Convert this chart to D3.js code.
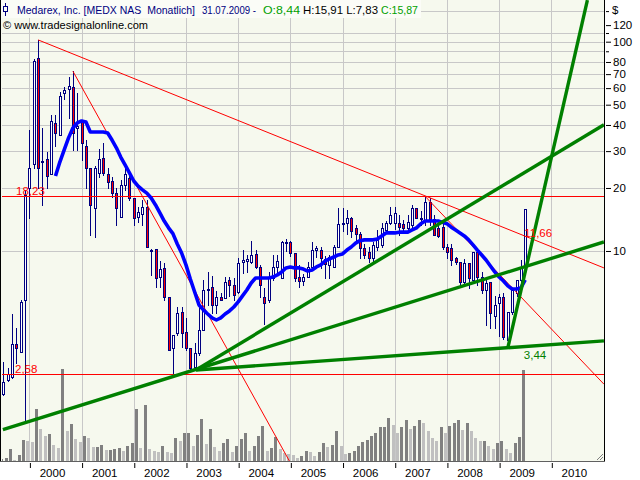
<!DOCTYPE html>
<html><head><meta charset="utf-8">
<script src="https://cdn.jsdelivr.net/npm/d3@7"></script>
<style>body{margin:0;background:#fff}svg{display:block}</style>
</head><body>
<svg id="c" width="640" height="480"></svg>
<script>
// ---------- DATA (monthly bars, first bar = Jul 1999; month index relative to Jan 2000) ----------
const firstBar = -6;
const opens = [
 2.08,2.42,2.50,3.60,3.30,5.80,20.0,26.0,84.0,26.5,27.5,23.4,
 40.8,35.8,56.8,59.2,61.0,38.5,41.3,31.6,24.8,16.0,23.6,27.8,
 23.4,21.6,18.9,14.6,20.6,22.2,18.0,14.6,15.1,16.2,10.0,10.2,
 7.5,8.3,6.0,3.43,4.06,5.1,4.1,3.43,2.79,3.25,4.18,6.5,
 6.7,5.5,6.0,5.95,7.27,6.85,6.37,8.85,8.96,8.85,9.68,8.39,
 6.0,5.83,7.43,8.4,7.45,11.0,11.0,9.8,7.5,7.2,7.5,8.4,
 10.1,10.1,9.2,8.6,8.4,10.45,13.5,13.6,14.3,12.9,12.1,10.3,
 9.9,9.3,10.4,10.7,12.6,13.6,13.6,13.6,13.5,12.9,13.3,16.0,
 14.2,14.1,17.2,14.2,12.9,13.0,10.45,10.3,9.25,8.85,7.1,8.77,
 7.27,9.9,7.51,6.51,7.1,4.9,5.63,6.0,3.76,5.11,6.3,7.27,
 8.44];
const highs = [
 2.94,2.75,5.0,4.3,5.8,19.6,38.0,83.0,102,38.7,29.7,44.5,
 44.5,57.6,60.6,67.6,72.3,56.8,41.3,33.9,24.8,25.4,30.8,32.7,
 24.8,22.5,20.0,21.8,25.6,23.8,18.0,16.2,17.5,17.5,10.2,10.2,
 8.95,8.8,6.0,3.96,5.4,5.4,4.77,3.45,3.64,5.4,7.27,7.9,
 7.6,6.45,6.3,7.5,7.5,7.45,9.25,10.1,9.57,11.2,10.1,8.58,
 6.66,7.94,9.57,9.6,11.2,11.4,11.1,9.8,8.56,7.8,8.9,11.0,
 10.6,10.5,9.5,9.6,10.7,16.0,16.0,15.7,14.6,13.3,12.3,10.8,
 10.4,11.0,12.6,13.6,13.9,16.3,16.3,14.8,14.0,14.8,16.6,16.0,
 15.6,18.23,18.0,14.8,13.4,13.8,10.8,10.8,9.4,8.85,9.2,8.8,
 9.9,9.9,7.9,7.4,7.1,6.1,6.2,6.3,5.11,6.51,7.27,9.06,
 15.91];
const lows = [
 2.06,2.40,2.47,2.90,3.30,1.50,14.3,24.8,20.0,16.6,20.0,23.4,
 31.9,35.8,53.0,43.0,30.3,30.3,27.2,20.0,11.9,11.7,22.5,23.0,
 20.0,18.2,13.3,14.6,19.5,17.5,13.3,13.8,13.3,10.4,7.7,6.7,
 6.7,5.8,3.36,2.58,3.96,3.48,3.36,2.70,2.74,3.19,4.18,5.5,
 5.04,5.04,5.83,5.95,6.1,5.85,6.3,7.86,7.94,8.77,8.3,6.0,
 4.47,5.71,7.27,7.9,7.45,10.0,9.5,7.2,6.73,6.9,7.5,8.4,
 9.4,8.3,7.4,7.4,8.4,10.45,12.5,12.0,11.6,11.0,9.25,9.3,
 8.9,9.0,10.1,10.45,12.4,13.4,12.8,11.9,12.5,12.6,13.0,14.3,
 13.3,13.3,13.3,11.9,11.6,10.2,9.25,8.58,8.7,6.9,6.9,6.66,
 7.1,6.9,6.3,4.45,4.3,4.3,3.92,3.8,3.44,5.0,6.1,7.1,
 7.83];
const closes = [
 2.37,2.58,3.60,3.44,5.70,18.5,24.8,81.0,24.8,27.0,22.8,41.7,
 36.5,54.9,58.5,61.3,36.5,39.6,32.7,25.0,16.6,24.8,27.5,23.6,
 21.3,18.9,16.0,20.6,23.4,18.0,14.3,15.4,16.2,10.4,10.1,7.4,
 8.2,6.0,3.36,3.96,5.04,4.06,3.43,2.76,3.25,4.18,6.5,6.6,
 5.5,6.0,5.83,7.1,6.9,6.15,8.77,9.06,9.16,9.57,8.39,6.88,
 5.63,7.43,8.39,9.0,11.0,11.05,9.8,7.4,7.2,7.5,8.4,10.1,
 10.3,9.3,8.7,9.4,10.45,13.5,13.6,14.3,12.5,12.1,10.3,9.6,
 9.3,10.7,11.3,12.9,13.6,14.8,15.2,13.0,12.9,13.8,16.0,14.3,
 14.3,17.2,14.2,11.9,11.8,10.45,9.9,9.06,8.85,7.1,8.77,7.43,
 9.9,7.51,6.51,7.03,5.04,5.52,6.0,3.9,5.11,6.51,7.27,8.3,
 15.87];
// relative monthly volume
const volumes = [
 2,3,12,1,6,21,20,19,52,32,25,27,
 16,13,92,30,37,22,19,25,23,14,14,16,
 11,11,12,13,10,15,18,52,13,56,12,10,
 9,15,9,8,23,20,28,28,15,26,42,17,
 32,14,10,18,22,9,15,22,28,10,15,25,
 35,10,13,24,12,8,7,6,3,5,10,9,
 5,9,18,14,16,30,15,7,8,10,15,19,
 21,25,28,34,34,43,36,28,34,41,32,35,
 41,38,30,23,20,34,28,35,38,41,31,38,
 30,23,20,20,15,12,18,20,12,8,18,24,
 91];
// blue average line, from Jul 2000 (month index 6)
const maStart = 6;
const maValues = [
 22.8,26.6,30.4,34.7,38.7,40.9,41.8,41.3,37.0,37.0,37.0,37.0,
 36.6,33.9,31.1,28.1,25.8,23.6,21.6,20.4,19.6,18.9,17.9,16.6,
 15.2,13.9,12.9,12.1,10.8,9.78,8.58,7.35,6.37,5.52,5.23,5.00,
 4.79,4.68,4.79,5.00,5.17,5.40,5.71,6.10,6.51,7.03,7.43,7.43,
 7.43,7.43,7.51,7.68,7.94,8.30,8.39,8.30,8.30,8.20,8.02,8.11,
 8.39,8.58,8.96,9.16,9.36,9.57,9.68,10.1,10.45,10.9,11.2,11.3,
 11.3,11.3,11.4,11.8,12.2,12.2,12.2,12.3,12.3,12.3,12.6,12.9,
 13.5,13.9,13.9,13.9,13.9,13.7,13.5,13.0,12.6,12.2,11.8,11.3,
 10.7,10.1,9.57,9.06,8.48,7.94,7.51,7.19,6.81,6.58,6.58,6.66,
 7.27];
const yearLabels = ["2000","2001","2002","2003","2004","2005","2006","2007","2008","2009","2010"];
const priceTicks = [10,20,30,40,50,60,70,80,100,120];
const minorPriceTicks = [90,110,140];
const gridPrices = [10,20,30,40,50,60,70,80,90,100,110,140];
const levelValues = [18.23, 2.58];
const levelLabels = ["18,23", "2,58"];
// trend lines: [monthIndex, price] anchor pairs
const redTrend = [
  [[2,102],[132.1,8.3]],
  [[10,72.3],[59.8,0.99]],
  [[91,18.23],[132.1,2.31]]
];
const greenTrend = [
  [[-6.1,1.40],[132.1,11.04]],
  [[38.3,2.70],[132.1,40.1]],
  [[38.3,2.70],[132.1,3.72]],
  [[110,3.44],[128.3,158]]
];
const trendValueLabel = {month:114, value:11.66, text:"11,66"};
const lowLabel = {month:110, value:3.44, text:"3,44"};
const header = {
  name:"Medarex, Inc. [MEDX NAS  Monatlich]", date:"31.07.2009 -",
  o:"O:8,44", hl:"H:15,91 L:7,83", c:"C:15,87", copy:"\u00a9 www.tradesignalonline.com"
};

// ---------- CHART ----------
const FONT = "'Liberation Sans', Arial, sans-serif";
const svg = d3.select("#c");
const P = {left:2, right:604, top:0, bottom:461};
const x = d3.scaleLinear().domain([0,120]).range([29.4,551.3]);
const y = d3.scaleLog().domain([0.992,158.2]).range([461,0]);
const yVol = d3.scaleLinear().domain([0,100]).range([461,361]);
const px = v => Math.round(v) + 0.5;

svg.append("rect").attr("width",640).attr("height",480).attr("fill","#ffffff");
svg.append("rect").attr("x",P.left-1).attr("y",P.top).attr("width",P.right-P.left+1).attr("height",P.bottom-P.top).attr("fill","#f6f9ee");

svg.append("defs").append("clipPath").attr("id","pc").append("rect")
  .attr("x",P.left).attr("y",P.top).attr("width",P.right-P.left).attr("height",P.bottom-P.top);

const bars = d3.range(opens.length).map(k => ({
  m: firstBar + k, o: opens[k], h: highs[k], l: lows[k], c: closes[k], v: volumes[k], pv: k>0?volumes[k-1]:0
}));

// grid
const grid = svg.append("g").attr("clip-path","url(#pc)");
grid.selectAll("line.h").data(gridPrices).join("line")
  .attr("x1",P.left).attr("x2",P.right).attr("y1",d=>px(y(d))).attr("y2",d=>px(y(d)))
  .attr("stroke","#c8c8c8").attr("stroke-width",1);
const yearTicks = d3.range(0,121,12);
grid.selectAll("line.v").data(yearTicks).join("line")
  .attr("x1",d=>px(x(d))).attr("x2",d=>px(x(d))).attr("y1",P.top).attr("y2",P.bottom)
  .attr("stroke","#c8c8c8").attr("stroke-width",1);

// volume
const vol = svg.append("g").attr("clip-path","url(#pc)");
vol.selectAll("rect").data(bars).join("rect")
  .attr("x",d=>Math.round(x(d.m))-3).attr("width",3)
  .attr("y",d=>Math.round(yVol(d.v))).attr("height",d=>461-Math.round(yVol(d.v)))
  .attr("fill",d=>d.v>=d.pv?"#808080":"#c0c0c0");

// candles
const cg = svg.append("g").attr("clip-path","url(#pc)");
const cs = cg.selectAll("g").data(bars).join("g");
cs.append("line")
  .attr("x1",d=>px(x(d.m))).attr("x2",d=>px(x(d.m)))
  .attr("y1",d=>Math.round(y(d.h))).attr("y2",d=>Math.round(y(d.l))+1)
  .attr("stroke","#000080").attr("stroke-width",1);
cs.append("rect")
  .attr("x",d=>px(x(d.m))-1).attr("width",2)
  .attr("y",d=>px(y(Math.max(d.o,d.c))))
  .attr("height",d=>Math.max(1,Math.round(y(Math.min(d.o,d.c)))-Math.round(y(Math.max(d.o,d.c)))))
  .attr("fill",d=>d.c>=d.o?"#ffffff":"#ff0000")
  .attr("stroke","#000080").attr("stroke-width",1);

// lines
const lg = svg.append("g").attr("clip-path","url(#pc)");
const tl = d3.line().x(d=>x(d[0])).y(d=>y(d[1]));
lg.selectAll("path.r").data(redTrend).join("path").attr("d",tl)
  .attr("fill","none").attr("stroke","#ff0000").attr("stroke-width",1);
lg.selectAll("line.lv").data(levelValues).join("line")
  .attr("x1",P.left).attr("x2",P.right).attr("y1",d=>px(y(d))).attr("y2",d=>px(y(d)))
  .attr("stroke","#ff0000").attr("stroke-width",1.2);
lg.append("path").datum(maValues.map((v,k)=>[maStart+k,v])).attr("d",tl)
  .attr("fill","none").attr("stroke","#0000ff").attr("stroke-width",3.6).attr("stroke-linejoin","round");
lg.selectAll("path.g").data(greenTrend).join("path").attr("d",tl)
  .attr("fill","none").attr("stroke","#008000").attr("stroke-width",3.4);

// labels on lines
const lab = svg.append("g").attr("font-family",FONT).attr("font-size",11.5);
lab.append("text").attr("x",16).attr("y",y(levelValues[0])-1.5).attr("fill","#ff0000").text(levelLabels[0]);
lab.append("text").attr("x",15).attr("y",y(levelValues[1])-1.5).attr("fill","#ff0000").text(levelLabels[1]);
lab.append("text").attr("x",x(trendValueLabel.month)-1).attr("y",y(trendValueLabel.value)).attr("fill","#ff0000").text(trendValueLabel.text);
lab.append("text").attr("x",x(lowLabel.month)+16).attr("y",y(lowLabel.value)+11).attr("fill","#008000").text(lowLabel.text);

// header
svg.append("rect").attr("x",1).attr("y",0).attr("width",420).attr("height",18).attr("fill","#fbfcf7");
const hd = svg.append("g").attr("font-family",FONT).attr("font-size",10.5);
const t1 = hd.append("text").attr("y",14).style("white-space","pre");
const seg = (t,xx,w,col)=>t1.append("tspan").attr("x",xx).attr("fill",col)
  .attr("textLength",w).attr("lengthAdjust","spacingAndGlyphs").text(t);
seg(header.name,17,178,"#000080");
seg(header.date,202,54,"#000080");
seg(header.o,263,37,"#00a000");
seg(header.hl,303,75,"#000000");
seg(header.c,381,37,"#00a000");
hd.append("text").attr("x",3).attr("y",29).attr("fill","#000").attr("font-size",11).attr("textLength",145)
  .attr("lengthAdjust","spacingAndGlyphs").text(header.copy);
// small candle icon
hd.append("line").attr("x1",5.5).attr("x2",5.5).attr("y1",3).attr("y2",16).attr("stroke","#000080");
hd.append("rect").attr("x",3.5).attr("y",6.5).attr("width",4).attr("height",5).attr("fill","#fbfcf7").attr("stroke","#000080");

// right axis
const axR = svg.append("g").attr("transform","translate(606,0)")
  .call(d3.axisRight(y).tickValues(priceTicks).tickFormat(d3.format("d")).tickSize(5).tickPadding(2));
axR.select(".domain").remove();
axR.attr("font-family",FONT).attr("font-size",11.5);
axR.selectAll("text").attr("fill","#000");
axR.selectAll("line").attr("stroke","#000");
const axR2 = svg.append("g").attr("transform","translate(606,0)")
  .call(d3.axisRight(y).tickValues(minorPriceTicks).tickFormat("").tickSize(3));
axR2.select(".domain").remove();
axR2.selectAll("line").attr("stroke","#000");
svg.append("text").attr("x",612).attr("y",14).attr("font-family",FONT).attr("font-size",11.5).text("$");

// bottom axis
const axB = svg.append("g").attr("transform","translate(0,463)")
  .call(d3.axisBottom(x).tickValues(yearTicks).tickFormat("").tickSize(5));
axB.select(".domain").remove();
axB.selectAll("line").attr("stroke","#000").attr("transform","translate(0.5,0)");
const axL = svg.append("g").attr("transform","translate(-3.5,477)")
  .call(d3.axisBottom(x).tickValues(yearTicks.map(t=>t+6)).tickFormat((d,i)=>yearLabels[i]).tickSize(0).tickPadding(0));
axL.select(".domain").remove();
axL.attr("font-family",FONT).attr("font-size",11.5);
axL.selectAll("text").attr("fill","#000").attr("dy",0);

// borders
svg.append("line").attr("x1",P.right+0.5).attr("x2",P.right+0.5).attr("y1",0).attr("y2",P.bottom+1).attr("stroke","#000");
svg.append("line").attr("x1",0.5).attr("x2",0.5).attr("y1",0).attr("y2",P.bottom+1).attr("stroke","#000");
svg.append("line").attr("x1",0).attr("x2",P.right+1).attr("y1",P.bottom+0.5).attr("y2",P.bottom+0.5).attr("stroke","#606060");
// resize grip
svg.append("path").attr("d","M597,460 L603,454 M600,460 L603,457").attr("stroke","#808080").attr("fill","none");
</script>
</body></html>
